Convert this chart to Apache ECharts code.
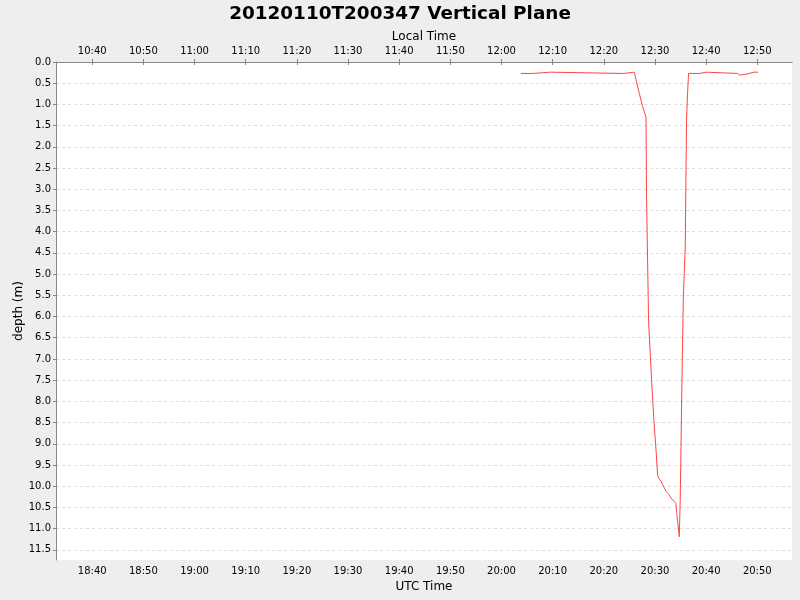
<!DOCTYPE html>
<html><head><meta charset="utf-8">
<script src="https://cdn.jsdelivr.net/npm/echarts@6/dist/echarts.min.js"></script>
<style>html,body{margin:0;padding:0;background:#eeeeee;}#c{width:800px;height:600px;}</style>
</head><body><div id="c"></div>
<script>
const titleText = '20120110T200347 Vertical Plane';
const utcTimes = ['20:03:47','20:06:05','20:06:05','20:09:33','20:09:33','20:23:49','20:23:49','20:25:58',
  '20:26:17','20:26:56','20:27:35','20:28:15','20:28:21','20:28:41','20:28:45','20:28:53','20:29:20','20:29:32',
  '20:29:44','20:30:12','20:30:31','20:30:50','20:31:10','20:31:29','20:31:49','20:32:09','20:32:47','20:33:08',
  '20:33:26','20:33:46','20:34:06','20:34:18','20:34:37','20:34:45','20:34:56','20:35:16','20:35:32','20:35:55',
  '20:36:10','20:36:22','20:36:34','20:38:39','20:38:39','20:39:58','20:39:58','20:46:08','20:46:36','20:48:05',
  '20:49:23','20:50:10'];
const depths = [0.27,0.27,0.24,0.24,0.27,0.27,0.24,0.24,
  0.42,0.74,1.05,1.30,3.17,5.60,6.12,6.15,7.49,7.53,
  8.35,9.14,9.75,9.83,9.88,9.96,10.04,10.12,10.20,10.28,
  10.32,10.36,10.41,10.69,10.71,11.19,10.32,7.57,5.60,4.35,
  1.37,0.74,0.27,0.27,0.24,0.24,0.27,0.27,0.31,0.28,
  0.24,0.24];
const depthTicks = [0,0.5,1,1.5,2,2.5,3,3.5,4,4.5,5,5.5,6,6.5,7,7.5,8,8.5,9,9.5,10,10.5,11,11.5];
const axisStartUTC = '18:32:55';
const axisEndUTC = '20:56:47';
const localOffsetHours = -8;
const depthMax = 11.74;

function toMs(s){ const p = s.split(':').map(Number); return Date.UTC(2012,0,10,p[0],p[1],p[2]); }
const seriesData = utcTimes.map((t,i)=>[toMs(t), depths[i]]);
const xMin = toMs(axisStartUTC), xMax = toMs(axisEndUTC);
const off = localOffsetHours*3600*1000;
const font = 'DejaVu Sans';
const chart = echarts.init(document.getElementById('c'));
const axisCommon = {
  type:'time', splitNumber:12,
  axisLine:{show:true,lineStyle:{color:'#888888'}},
  axisTick:{show:true,length:3,lineStyle:{color:'#888888'}},
  axisLabel:{formatter:'{HH}:{mm}',color:'#000',fontFamily:font,fontSize:10,margin:6,hideOverlap:false,showMinLabel:false,showMaxLabel:false},
  splitLine:{show:false},
  nameLocation:'middle', nameMoveOverlap:false,
  nameTextStyle:{color:'#000',fontFamily:font,fontSize:12}
};
chart.setOption({
  useUTC:true,
  backgroundColor:'#eeeeee',
  animation:false,
  title:{text:titleText,left:'center',top:0,textStyle:{fontFamily:font,fontSize:18.4,fontWeight:'bold',color:'#000'}},
  grid:{left:56,right:8,top:62,bottom:40,show:true,backgroundColor:'#ffffff',borderWidth:0,containLabel:false,outerBoundsMode:'none'},
  xAxis:[
    Object.assign({},axisCommon,{position:'bottom',min:xMin,max:xMax,name:'UTC Time',nameGap:21}),
    Object.assign({},axisCommon,{position:'top',min:xMin+off,max:xMax+off,name:'Local Time',nameGap:19})
  ],
  yAxis:{
    type:'value',inverse:true,min:0,max:depthMax,interval:0.5,name:'depth (m)',nameLocation:'middle',nameGap:31,nameMoveOverlap:false,
    nameTextStyle:{color:'#000',fontFamily:font,fontSize:12},
    axisLine:{show:true,lineStyle:{color:'#888888'}},
    axisTick:{show:true,length:3,customValues:depthTicks,lineStyle:{color:'#888888'}},
    axisLabel:{color:'#000',fontFamily:font,fontSize:10,margin:5,customValues:depthTicks,
      formatter:v=>v.toFixed(1)},
    splitLine:{show:true,lineStyle:{color:'#dddddd',type:[3,3],width:1}}
  },
  series:[{type:'line',xAxisIndex:0,data:seriesData,showSymbol:false,symbol:'none',
    lineStyle:{color:'#ff4444',width:1},itemStyle:{color:'#ff4444'}}]
});
</script></body></html>
